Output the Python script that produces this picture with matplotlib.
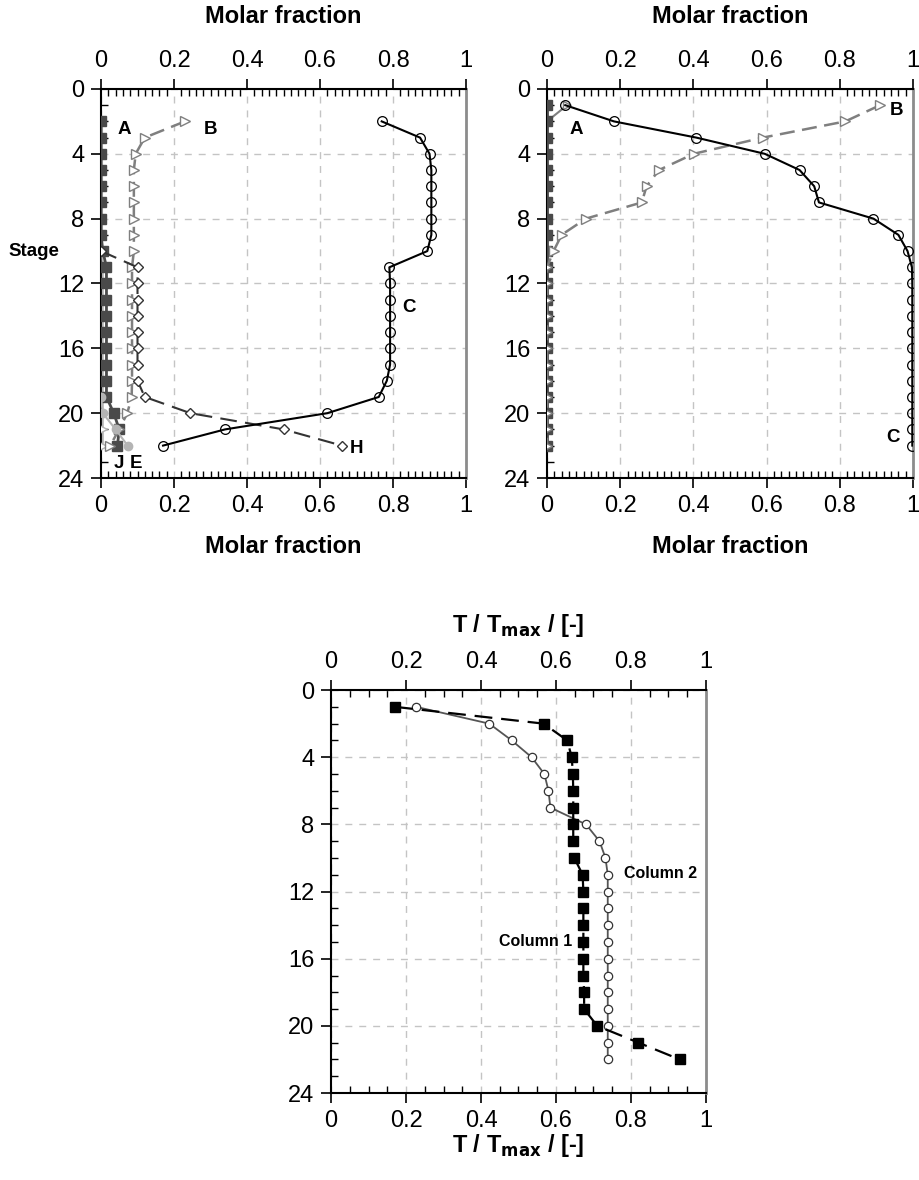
import numpy as np
import matplotlib
matplotlib.use("Agg")
import matplotlib.pyplot as plt
from matplotlib.ticker import MultipleLocator, FuncFormatter

plt.rcParams.update({
    "font.family": ["Liberation Sans", "DejaVu Sans"],
    "font.size": 17,
    "axes.linewidth": 1.5,
})

# ── Column 1 profiles (left panel) ─────────────
c1_stage = [2, 3, 4, 5, 6, 7, 8, 9, 10, 11, 12, 13, 14, 15, 16, 17, 18, 19, 20, 21, 22]
c1_A = [0.0, 0.0, 0.0, 0.0, 0.0, 0.0, 0.0, 0.0, 0.005, 0.015, 0.015, 0.015, 0.015,
        0.015, 0.015, 0.015, 0.015, 0.015, 0.035, 0.05, 0.045]
c1_B = [0.23, 0.12, 0.095, 0.09, 0.09, 0.09, 0.09, 0.09, 0.09, 0.085, 0.085, 0.085,
        0.085, 0.085, 0.085, 0.085, 0.085, 0.084, 0.072, 0.05, 0.025]
c1_C = [0.769, 0.874, 0.9, 0.905, 0.905, 0.905, 0.905, 0.905, 0.894, 0.79, 0.792,
        0.792, 0.792, 0.792, 0.792, 0.792, 0.783, 0.761, 0.62, 0.34, 0.17]
c1_H_stage = [10, 11, 12, 13, 14, 15, 16, 17, 18, 19, 20, 21, 22]
c1_H = [0.0, 0.1, 0.1, 0.1, 0.1, 0.1, 0.1, 0.1, 0.1, 0.12, 0.245, 0.5, 0.66]
c1_E_stage = [19, 20, 21, 22]
c1_E = [0.0, 0.005, 0.04, 0.073]
c1_J_stage = [2, 3, 4, 5, 6, 7, 8, 9, 10, 11, 12, 13, 14, 15, 16, 17, 18, 19, 20, 21, 22]
c1_J = [0.003, 0.003, 0.003, 0.003, 0.003, 0.003, 0.003, 0.003, 0.003, 0.005, 0.005,
        0.005, 0.005, 0.005, 0.005, 0.005, 0.005, 0.005, 0.005, 0.005, 0.005]

# ── Column 2 profiles (right panel) ────────────
c2_stage = list(range(1, 23))
c2_A = [0.0] * 22
c2_D_stage = [1, 2]
c2_D = [0.055, 0.0]
c2_B = [0.91, 0.815, 0.59, 0.401, 0.306, 0.272, 0.259, 0.106, 0.04, 0.018,
        0.0, 0.0, 0.0, 0.0, 0.0, 0.0, 0.0, 0.0, 0.0, 0.0, 0.0, 0.0]
c2_C = [0.05, 0.183, 0.408, 0.595, 0.69, 0.73, 0.743, 0.892, 0.96, 0.985,
        0.997, 0.998, 0.998, 0.998, 0.998, 0.998, 0.998, 0.998, 0.998, 0.998, 0.998, 0.998]

# ── Temperature profiles (bottom panel) ────────
t_stage = list(range(1, 23))
t_col1 = [0.171, 0.567, 0.63, 0.642, 0.645, 0.646, 0.646, 0.646, 0.646, 0.649,
          0.671, 0.673, 0.673, 0.673, 0.673, 0.673, 0.673, 0.675, 0.675, 0.71, 0.82, 0.93]
t_col2 = [0.227, 0.422, 0.482, 0.535, 0.569, 0.58, 0.585, 0.68, 0.716, 0.732,
          0.738, 0.738, 0.738, 0.738, 0.738, 0.738, 0.738, 0.738, 0.738, 0.738, 0.738, 0.738]

xfmt = FuncFormatter(lambda v, _: f"{v:g}")


def style_axes(ax, xminor):
    ax.set_xlim(0, 1)
    ax.set_ylim(24, 0)
    ax.xaxis.set_major_locator(MultipleLocator(0.2))
    ax.xaxis.set_minor_locator(MultipleLocator(xminor))
    ax.yaxis.set_major_locator(MultipleLocator(4))
    ax.yaxis.set_minor_locator(MultipleLocator(1))
    ax.xaxis.set_major_formatter(xfmt)
    ax.tick_params(which="major", direction="out", length=7, width=1.2,
                   top=True, bottom=True, labeltop=True, labelbottom=True,
                   labelsize=17, pad=5)
    ax.tick_params(which="minor", direction="in", length=5, width=1.0,
                   top=True, bottom=True)
    ax.grid(True, which="major", color="#c4c4c4", linestyle=(0, (5, 5)), linewidth=1.0)
    ax.set_axisbelow(True)
    ax.spines["right"].set_color("#8c8c8c")
    ax.spines["right"].set_linewidth(2.0)
    for s in ("top", "left", "bottom"):
        ax.spines[s].set_color("black")


fig = plt.figure(figsize=(9.19, 11.8), dpi=100)

dark = "#4a4a4a"
mid = "#7f7f7f"
light = "#b4b4b4"
lab = dict(fontsize=13.5, fontweight="bold", ha="center", va="center")
ttl = dict(fontsize=17, fontweight="bold", ha="center", va="center")

# ── Left panel ────────────────────────────────
ax1 = fig.add_axes([0.1099, 0.5949, 0.3972, 0.3297])
style_axes(ax1, 0.02)
ax1.plot(c1_J, c1_J_stage, color=light, lw=1.4, marker=">", ms=6, mfc="white", mec=light,
         markevery=list(range(9, 21)), zorder=3)
ax1.plot(c1_A, c1_stage, color=dark, lw=2.0, marker="s", ms=7, mfc=dark, mec=dark, zorder=4)
ax1.plot(c1_B, c1_stage, color=mid, lw=1.8, ls=(0, (6, 3)), marker=">", ms=7, mfc="white", mec=mid, zorder=4)
ax1.plot(c1_H, c1_H_stage, color="#333333", lw=1.5, ls=(0, (8, 4)), marker="D", ms=5, mfc="white", mec="#333333", zorder=4)
ax1.plot(c1_E, c1_E_stage, color=light, lw=1.5, marker="o", ms=6, mfc=light, mec=light, zorder=5)
ax1.plot(c1_C, c1_stage, color="black", lw=1.5, marker="o", ms=7, mfc="none", mec="black", mew=0.9, zorder=5)
ax1.text(0.065, 2.5, "A", **lab)
ax1.text(0.3, 2.5, "B", **lab)
ax1.text(0.845, 13.5, "C", **lab)
ax1.text(0.70, 22.2, "H", **lab)
ax1.text(0.05, 23.1, "J", **lab)
ax1.text(0.095, 23.1, "E", **lab)
ax1.text(0.5, 1.185, "Molar fraction", transform=ax1.transAxes, **ttl)
ax1.text(0.5, -0.175, "Molar fraction", transform=ax1.transAxes, **ttl)
ax1.text(-0.185, 10.0, "Stage", transform=ax1.get_yaxis_transform(), fontsize=13.5,
         fontweight="bold", ha="center", va="center")

# ── Right panel ───────────────────────────────
ax2 = fig.add_axes([0.5952, 0.5949, 0.3983, 0.3297])
style_axes(ax2, 0.02)
ax2.plot(c2_D, c2_D_stage, color=mid, lw=1.5, marker=">", ms=6, mfc="white", mec=mid,
         markevery=[0], zorder=4)
ax2.plot(c2_A, c2_stage, color=dark, lw=2.0, marker="s", ms=7, mfc=dark, mec=dark, zorder=4)
ax2.plot(c2_B, c2_stage, color=mid, lw=1.8, ls=(0, (6, 3)), marker=">", ms=7, mfc="white", mec=mid, zorder=4)
ax2.plot(c2_C, c2_stage, color="black", lw=1.5, marker="o", ms=7, mfc="none", mec="black", mew=0.9, zorder=5)
ax2.text(0.08, 2.5, "A", **lab)
ax2.text(0.955, 1.3, "B", **lab)
ax2.text(0.945, 21.5, "C", **lab)
ax2.text(0.5, 1.185, "Molar fraction", transform=ax2.transAxes, **ttl)
ax2.text(0.5, -0.175, "Molar fraction", transform=ax2.transAxes, **ttl)

# ── Bottom panel ──────────────────────────────
ax3 = fig.add_axes([0.3602, 0.0737, 0.408, 0.3415])
style_axes(ax3, 0.05)
ax3.plot(t_col2, t_stage, color="#555555", lw=1.3, marker="o", ms=6, mfc="white", mec="#333333", mew=0.9, zorder=4)
ax3.plot(t_col1, t_stage, color="black", lw=1.6, ls=(0, (8, 4)), marker="s", ms=6.5, mfc="black", mec="black", zorder=5)
ax3.text(0.545, 15.0, "Column 1", fontsize=11.5, fontweight="bold", ha="center", va="center")
ax3.text(0.88, 10.9, "Column 2", fontsize=11.5, fontweight="bold", ha="center", va="center")
ax3.text(0.5, 1.16, r"T / T$_{\mathbf{max}}$ / [-]", transform=ax3.transAxes, **ttl)
ax3.text(0.5, -0.13, r"T / T$_{\mathbf{max}}$ / [-]", transform=ax3.transAxes, **ttl)

fig.savefig("out.png", dpi=100)
